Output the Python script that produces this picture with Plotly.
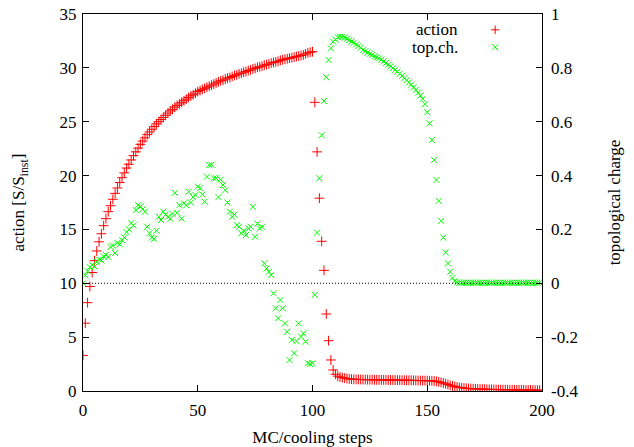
import plotly.graph_objects as go

# MC/cooling step index for each measurement
steps = list(range(0, 201))

# action [S/S_inst] (left axis)
action = [
    3.3, 6.3, 8.2, 9.7, 11.0, 12.1, 13.0, 13.85, 14.6, 15.35,
    16.0, 16.65, 17.2, 17.8, 18.35, 18.85, 19.35, 19.8, 20.25, 20.7,
    21.05, 21.45, 21.85, 22.2, 22.55, 22.9, 23.2, 23.5, 23.8, 24.05,
    24.3, 24.55, 24.8, 25.0, 25.2, 25.4, 25.6, 25.8, 26.0, 26.15,
    26.35, 26.5, 26.65, 26.8, 26.95, 27.1, 27.25, 27.4, 27.5, 27.65,
    27.8, 27.9, 28.0, 28.1, 28.2, 28.3, 28.4, 28.5, 28.6, 28.7,
    28.8, 28.85, 28.95, 29.05, 29.1, 29.2, 29.3, 29.35, 29.45, 29.5,
    29.6, 29.65, 29.75, 29.8, 29.9, 29.95, 30.05, 30.1, 30.15, 30.25,
    30.3, 30.35, 30.45, 30.5, 30.55, 30.6, 30.7, 30.75, 30.8, 30.85,
    30.9, 30.95, 31.0, 31.05, 31.1, 31.15, 31.2, 31.3, 31.4, 31.45,
    31.5,
    26.8, 22.2, 17.9, 13.9, 11.2, 7.15, 4.67, 2.88, 1.95,
    1.55, 1.38, 1.30, 1.24, 1.20, 1.16, 1.12, 1.10, 1.09, 1.08,
    1.07, 1.07, 1.06, 1.06, 1.05, 1.05, 1.05, 1.04, 1.04, 1.04,
    1.03, 1.03, 1.03, 1.02, 1.02, 1.02, 1.01, 1.01, 1.01, 1.00,
    1.00, 1.00, 0.99, 0.99, 0.99, 0.98, 0.97, 0.97, 0.96, 0.96,
    0.96, 0.95, 0.94, 0.92, 0.89, 0.85, 0.80, 0.74, 0.67, 0.60,
    0.53, 0.47, 0.42, 0.37, 0.33, 0.30, 0.27, 0.25, 0.23, 0.22,
    0.21, 0.20, 0.19, 0.18, 0.17, 0.17, 0.16, 0.15, 0.15, 0.14,
    0.14, 0.13, 0.13, 0.12, 0.12, 0.12, 0.11, 0.11, 0.11, 0.10,
    0.10, 0.10, 0.10, 0.09, 0.09, 0.09, 0.09, 0.08, 0.08, 0.08,
]

# topological charge (right axis)
topch = [
    0.000, 0.030, 0.045, 0.060, 0.068, 0.062, 0.080, 0.088, 0.085, 0.100,
    0.105, 0.098, 0.135, 0.140, 0.112, 0.150, 0.145, 0.160, 0.170, 0.190,
    0.200, 0.223, 0.215, 0.272, 0.290, 0.285, 0.275, 0.266, 0.210, 0.186,
    0.170, 0.165, 0.195, 0.247, 0.235, 0.266, 0.255, 0.247, 0.240, 0.258,
    0.336, 0.262, 0.290, 0.240, 0.297, 0.290, 0.340, 0.300, 0.320, 0.328,
    0.359, 0.353, 0.330, 0.303, 0.396, 0.439, 0.440, 0.390, 0.390, 0.320,
    0.385, 0.365, 0.346, 0.300, 0.266, 0.247, 0.255, 0.216, 0.210, 0.186,
    0.195, 0.179, 0.204, 0.210, 0.284, 0.173, 0.222, 0.204, 0.210, 0.074,
    0.055, 0.043, 0.031, -0.037, -0.093, -0.130, -0.062, -0.093, -0.149, -0.180,
    -0.285, -0.210, -0.260, -0.215, -0.149, -0.198, -0.186, -0.217, -0.297, -0.300,
    -0.297,
    -0.043, 0.188, 0.390, 0.550, 0.677, 0.765, 0.829, 0.872, 0.897,
    0.905, 0.914, 0.916, 0.915, 0.912, 0.908, 0.903, 0.898, 0.893, 0.887,
    0.881, 0.875, 0.867, 0.862, 0.857, 0.852, 0.848, 0.843, 0.839, 0.835,
    0.830, 0.824, 0.818, 0.812, 0.806, 0.799, 0.793, 0.786, 0.778, 0.770,
    0.762, 0.754, 0.746, 0.738, 0.728, 0.718, 0.708, 0.697, 0.685, 0.665,
    0.635, 0.594, 0.532, 0.458, 0.384, 0.306, 0.232, 0.170, 0.115, 0.074,
    0.043, 0.020, 0.008, 0.003, 0.002, 0.002, 0.002, 0.002, 0.002, 0.002,
    0.002, 0.002, 0.002, 0.002, 0.002, 0.002, 0.002, 0.002, 0.002, 0.002,
    0.002, 0.002, 0.002, 0.002, 0.002, 0.002, 0.002, 0.002, 0.002, 0.002,
    0.002, 0.002, 0.002, 0.002, 0.002, 0.002, 0.002, 0.002, 0.002, 0.002,
]

series_names = ["action", "top.ch."]
x_ticks = [0, 50, 100, 150, 200]
y_ticks = [0, 5, 10, 15, 20, 25, 30, 35]
y2_ticks = [-0.4, -0.2, 0, 0.2, 0.4, 0.6, 0.8, 1]
y2_ticklabels = ["-0.4", "-0.2", "0", "0.2", "0.4", "0.6", "0.8", "1"]

RED = "#ff0000"
GREEN = "#00ff00"
FONT = "Liberation Serif, Times New Roman, serif"
TICK_SIZE = 17
LABEL_SIZE = 17

fig = go.Figure()
fig.add_trace(go.Scatter(
    x=steps, y=action, mode="markers", name=series_names[0],
    marker=dict(symbol="cross-thin", size=7, line=dict(color=RED, width=1), color=RED),
    xaxis="x", yaxis="y", showlegend=False,
))
fig.add_trace(go.Scatter(
    x=steps, y=topch, mode="markers", name=series_names[1],
    marker=dict(symbol="x-thin", size=6, line=dict(color=GREEN, width=1), color=GREEN),
    xaxis="x", yaxis="y2", showlegend=False,
))

# legend samples (gnuplot style: text then symbol), drawn on a hidden unit axis
legend_y = [0.958, 0.912]
fig.add_trace(go.Scatter(
    x=[0.898], y=[legend_y[0]], mode="markers",
    marker=dict(symbol="cross-thin", size=6, line=dict(color=RED, width=1)),
    xaxis="x3", yaxis="y3", showlegend=False, hoverinfo="skip",
))
fig.add_trace(go.Scatter(
    x=[0.898], y=[legend_y[1]], mode="markers",
    marker=dict(symbol="x-thin", size=6, line=dict(color=GREEN, width=1)),
    xaxis="x3", yaxis="y3", showlegend=False, hoverinfo="skip",
))
for nm, yy in zip(series_names, legend_y):
    fig.add_annotation(x=0.822, y=yy, xref="x3", yref="y3", text=nm, showarrow=False,
                       xanchor="right", yanchor="middle",
                       font=dict(family=FONT, size=LABEL_SIZE, color="black"))

# dotted zero line for topological charge
fig.add_shape(type="line", xref="paper", yref="y2", x0=0, x1=1, y0=0, y1=0,
              line=dict(color="black", width=1, dash="1px,2px"))

axis_common = dict(
    showgrid=False, zeroline=False, linecolor="black", linewidth=1,
    ticks="inside", ticklen=6, tickcolor="black", tickwidth=1, automargin=False,
    ticklabeloverflow="allow",
    tickfont=dict(family=FONT, size=TICK_SIZE, color="black"),
)

fig.update_layout(
    width=634, height=447,
    margin=dict(l=83, r=92, t=14, b=56),
    paper_bgcolor="white", plot_bgcolor="white",
    font=dict(family=FONT, size=LABEL_SIZE, color="black"),
    showlegend=False,
    xaxis=dict(range=[0, 200], tickvals=x_ticks, mirror="ticks", showline=True,
               ticklabelstandoff=4,
               title=dict(text="MC/cooling steps", font=dict(family=FONT, size=LABEL_SIZE), standoff=12),
               **axis_common),
    yaxis=dict(range=[0, 35], tickvals=y_ticks, mirror=True, showline=True,
               ticklabelstandoff=2,
               title=dict(text="action [S/S<sub>inst</sub>]", font=dict(family=FONT, size=LABEL_SIZE), standoff=30),
               **axis_common),
    yaxis2=dict(range=[-0.4, 1], tickvals=y2_ticks, ticktext=y2_ticklabels,
                overlaying="y", side="right", anchor="x", showline=False,
                ticklabelstandoff=8,
                title=dict(text="topological charge", font=dict(family=FONT, size=LABEL_SIZE), standoff=30),
                **axis_common),
    xaxis3=dict(range=[0, 1], visible=False, overlaying="x", anchor="y3"),
    yaxis3=dict(range=[0, 1], visible=False, overlaying="y", anchor="x3"),
)

# remove the default page margin so the figure sits at the window's corner
fig.write_html("out.html", config={"displayModeBar": False},
               post_script="document.body.style.margin='0';document.body.style.overflow='hidden';")
